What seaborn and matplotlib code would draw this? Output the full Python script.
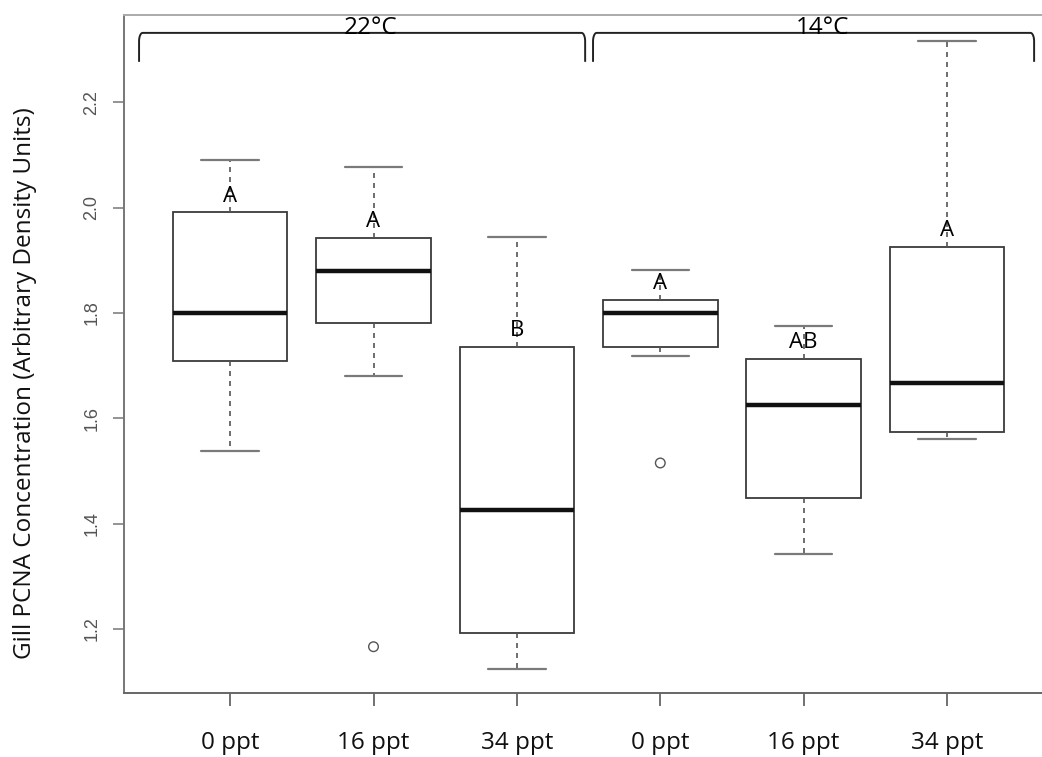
import numpy as np
import pandas as pd
import matplotlib
matplotlib.use("Agg")
import matplotlib.pyplot as plt
import seaborn as sns

# ---------------- data ----------------
temperatures = ["22°C", "14°C"]
salinity_labels = ["0 ppt", "16 ppt", "34 ppt", "0 ppt", "16 ppt", "34 ppt"]
group_temperature = [0, 0, 0, 1, 1, 1]
whisker_low = [1.538, 1.681, 1.124, 1.719, 1.342, 1.561]
q1 = [1.709, 1.781, 1.192, 1.736, 1.449, 1.574]
median = [1.800, 1.880, 1.426, 1.800, 1.625, 1.667]
q3 = [1.992, 1.943, 1.736, 1.825, 1.713, 1.926]
whisker_high = [2.091, 2.078, 1.945, 1.882, 1.776, 2.317]
outliers = [[], [1.166], [], [1.515], [], []]
letters = ["A", "A", "B", "A", "AB", "A"]
y_ticks = [1.2, 1.4, 1.6, 1.8, 2.0, 2.2]
y_label = "Gill PCNA Concentration (Arbitrary Density Units)"

# ---------------- tables for seaborn ----------------
n = len(salinity_labels)
box_rows = []
for i in range(n):
    for v in (whisker_low[i], q1[i], median[i], q3[i], whisker_high[i]):
        box_rows.append({"group": i, "value": v})
box_df = pd.DataFrame(box_rows)
out_df = pd.DataFrame([{"group": i, "value": v} for i in range(n) for v in outliers[i]])

# ---------------- figure ----------------
sns.set_theme(style="white")
plt.rcParams["font.family"] = ["Open Sans", "DejaVu Sans"]

fig = plt.figure(figsize=(10.42, 7.57), dpi=100)
ax = fig.add_axes([0.119, 0.0845, 0.881, 0.8957])

sns.boxplot(
    data=box_df, x="group", y="value", ax=ax, width=0.8,
    whis=(0, 100), showfliers=False, color="white", linecolor="#3a3a3a",
    linewidth=1.3,
    boxprops=dict(facecolor="white", edgecolor="#3a3a3a", linewidth=1.3),
    medianprops=dict(color="#111111", linewidth=3.2),
    whiskerprops=dict(color="#555555", linewidth=1.2, linestyle=(0, (3, 3))),
    capprops=dict(color="#7a7a7a", linewidth=1.6),
)

sns.scatterplot(
    data=out_df, x="group", y="value", ax=ax, marker="o", s=48,
    facecolor="none", edgecolor="#555555", linewidth=1.0, zorder=5,
)

ax.set_xlim(-0.74, 5.662)
ax.set_ylim(1.078, 2.366)

# letters above boxes
for i in range(n):
    ax.text(i, q3[i] + 0.030, letters[i], ha="center", va="center",
            fontsize=16, color="black", family="Open Sans", fontweight=500, zorder=6)

# temperature brackets
pad_left = [0.635, 0.469]
pad_right = [0.476, 0.607]
y_top = 2.332
y_bot = 2.277
rx, ry = 0.025, 0.016
t = np.linspace(0, np.pi / 2, 12)
for k, temp in enumerate(temperatures):
    idx = [i for i in range(n) if group_temperature[i] == k]
    x0 = idx[0] - pad_left[k]
    x1 = idx[-1] + pad_right[k]
    xs = np.concatenate([[x0], x0 + rx - rx * np.cos(t), x1 - rx + rx * np.cos(t[::-1]), [x1]])
    ys = np.concatenate([[y_bot], y_top - ry + ry * np.sin(t), y_top - ry + ry * np.sin(t[::-1]), [y_bot]])
    ax.plot(xs, ys, color="#222222", linewidth=1.4, solid_capstyle="butt", clip_on=False)
    ax.text((x0 + x1) / 2 + 0.06, y_top - 0.002, temp, ha="center", va="baseline",
            fontsize=17.5, color="black", family="Open Sans", fontweight=500)

# axes styling
ax.set_xticks(range(n))
ax.set_xticklabels(salinity_labels, fontsize=17.5, family="Open Sans",
                   color="#111111", fontweight=500)
ax.set_yticks(y_ticks)
ax.set_yticklabels([f"{v:.1f}" for v in y_ticks], fontsize=13,
                   family="Liberation Sans", color="#555555")
for lbl in ax.get_yticklabels():
    lbl.set_rotation(90)
    lbl.set_va("center")
ax.tick_params(axis="y", length=8, width=1.1, color="#777777", pad=9, left=True)
ax.tick_params(axis="x", length=9, width=1.3, color="#666666", pad=18, bottom=True)
ax.set_xlabel("")
ax.set_ylabel("")

ax.spines["right"].set_visible(False)
ax.spines["top"].set_color("#aaaaaa")
ax.spines["left"].set_color("#777777")
ax.spines["bottom"].set_color("#666666")
for s in ("top", "left", "bottom"):
    ax.spines[s].set_linewidth(1.4)

fig.text(25 / 1042, 1 - 383 / 757, y_label, rotation=90, ha="center", va="center",
         fontsize=17.5, family="Open Sans", color="#111111", fontweight=500)

fig.savefig("out.png", dpi=100)
